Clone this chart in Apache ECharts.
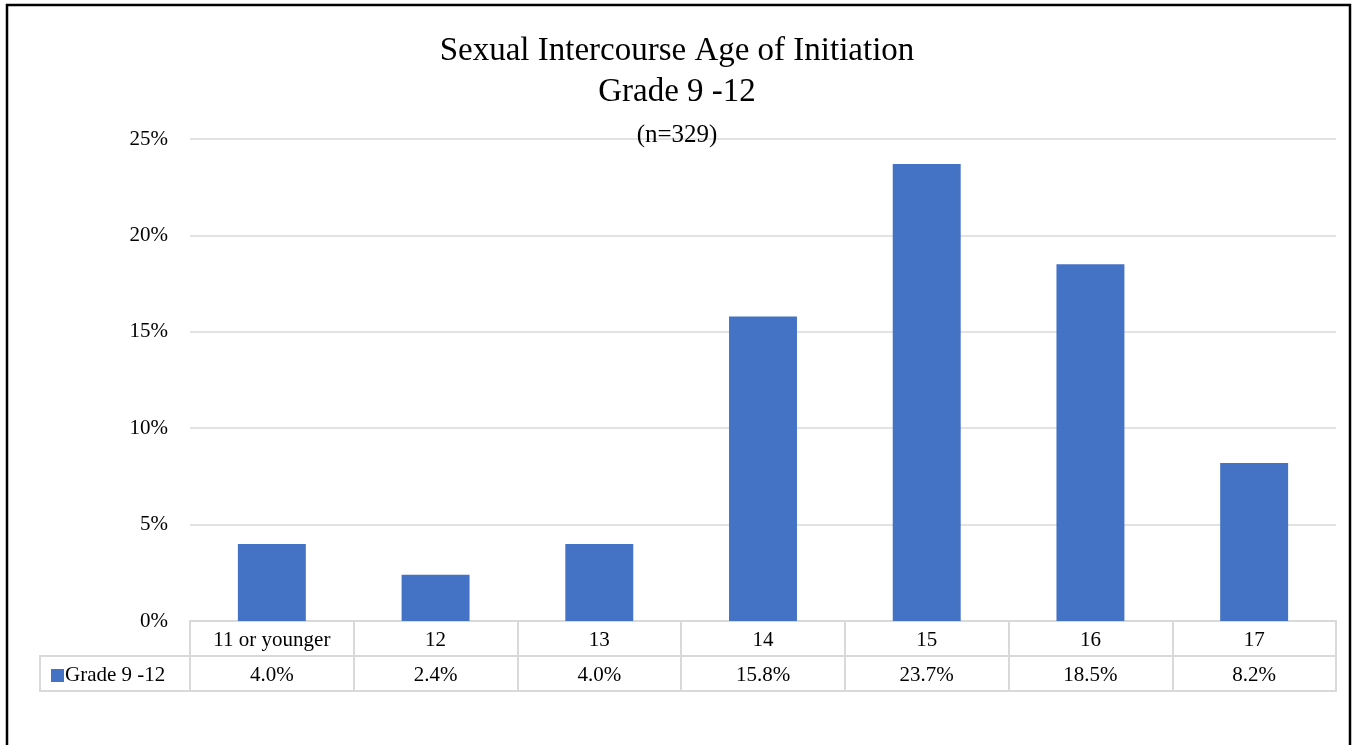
<!DOCTYPE html>
<html>
<head>
<meta charset="utf-8">
<script src="https://cdn.jsdelivr.net/npm/echarts@6/dist/echarts.min.js"></script>
<style>
  html, body { margin: 0; padding: 0; background: #fff; }
  #chart { width: 1354px; height: 745px; }
</style>
</head>
<body>
<div id="chart"></div>
<script>
// Age of first sexual intercourse, grades 9-12
const categories = ['11 or younger', '12', '13', '14', '15', '16', '17'];
const seriesName = 'Grade 9 -12';
const values = [4.0, 2.4, 4.0, 15.8, 23.7, 18.5, 8.2]; // percent
const yTicks = [0, 5, 10, 15, 20, 25];

const FONT = '"Liberation Serif", "DejaVu Serif", serif';
const GRID = '#d9d9d9';
const BAR = '#4472C4';
const LABEL_SIZE = 21;

const chart = echarts.init(document.getElementById('chart'));

const tableAxisBase = {
  type: 'category',
  data: categories,
  position: 'bottom',
  gridIndex: 0,
  boundaryGap: true,
  axisLine: { show: true, lineStyle: { color: GRID, width: 2 } },
  axisTick: { show: true, length: 35, interval: 0, lineStyle: { color: GRID, width: 2 } },
  axisLabel: { interval: 0, fontFamily: FONT, fontSize: LABEL_SIZE, color: '#000', margin: 9 }
};

chart.setOption({
  animation: false,
  title: [
    { text: 'Sexual Intercourse Age of Initiation', left: 'center', top: 30,
      textStyle: { fontFamily: FONT, fontSize: 33, fontWeight: 'normal', color: '#000' } },
    { text: 'Grade 9 -12', left: 'center', top: 71,
      textStyle: { fontFamily: FONT, fontSize: 33, fontWeight: 'normal', color: '#000' } },
    { text: '(n=329)', left: 'center', top: 118,
      textStyle: { fontFamily: FONT, fontSize: 25, fontWeight: 'normal', color: '#000' } }
  ],
  legend: {
    data: [{ name: seriesName, icon: 'rect' }],
    left: 46, top: 660,
    itemWidth: 13, itemHeight: 13, itemGap: 4,
    textStyle: { fontFamily: FONT, fontSize: LABEL_SIZE, color: '#000', padding: [0, 0, 0, -4] },
    selectedMode: false
  },
  grid: { left: 190, right: 18, top: 139, bottom: 124, containLabel: false },
  xAxis: [
    Object.assign({}, tableAxisBase),
    Object.assign({}, tableAxisBase, {
      offset: 35,
      axisLabel: Object.assign({}, tableAxisBase.axisLabel, {
        formatter: (v, i) => values[i].toFixed(1) + '%'
      })
    }),
    Object.assign({}, tableAxisBase, {
      offset: 70,
      axisTick: { show: false },
      axisLabel: { show: false }
    })
  ],
  yAxis: {
    type: 'value',
    min: yTicks[0],
    max: yTicks[yTicks.length - 1],
    interval: 5,
    axisLine: { show: false },
    axisTick: { show: false },
    splitLine: { lineStyle: { color: GRID, width: 1.5 } },
    axisLabel: { formatter: '{value}%', fontFamily: FONT, fontSize: LABEL_SIZE, color: '#000', margin: 22 }
  },
  series: [{
    name: seriesName,
    type: 'bar',
    xAxisIndex: 0,
    data: values,
    barWidth: '41.5%',
    itemStyle: { color: BAR }
  }],
  graphic: [
    // legend key cell at the left of the data table
    { type: 'rect', shape: { x: 40, y: 656, width: 150, height: 35 },
      style: { fill: 'none', stroke: GRID, lineWidth: 2 }, z: 10 },
    // outer frame
    { type: 'rect', shape: { x: 7, y: 5, width: 1343, height: 780 },
      style: { fill: 'none', stroke: '#000', lineWidth: 2.5 }, z: 10 }
  ]
});
</script>
</body>
</html>
